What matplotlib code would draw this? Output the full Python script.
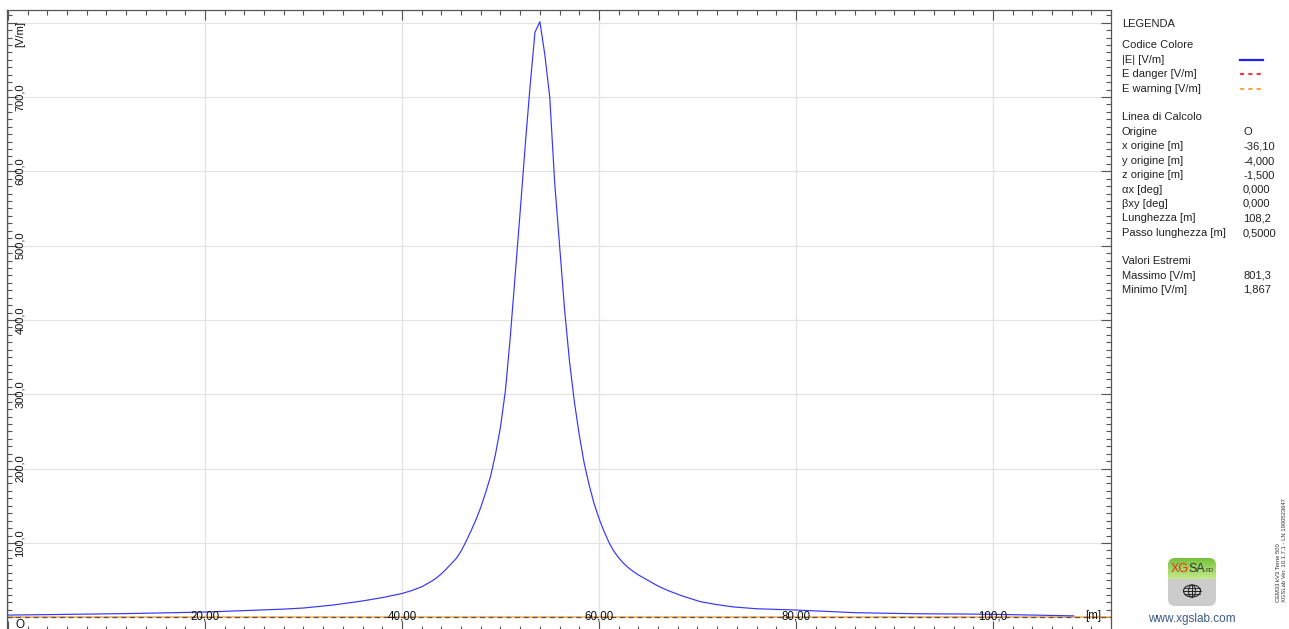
import matplotlib
matplotlib.use("Agg")
import matplotlib.pyplot as plt
from matplotlib.patches import FancyBboxPatch, Ellipse
from matplotlib.transforms import blended_transform_factory
import numpy as np

plt.rcParams['font.family'] = ['Liberation Sans', 'DejaVu Sans']

# ---- data ----
pos_m = [0, 4, 8, 12, 16, 20, 24, 28, 30, 33, 36, 38, 40, 41, 42, 43, 43.5, 44, 44.5,
         45, 45.5, 46, 46.5, 47, 47.5, 48, 48.5, 49, 49.5, 50, 50.5, 51, 51.5, 52,
         52.5, 53, 53.5, 54, 54.5, 55, 55.5, 56, 56.5, 57, 57.5, 58, 58.5, 59, 59.5,
         60, 60.5, 61, 61.5, 62, 62.5, 63, 63.5, 64, 65, 66, 67, 68.5, 70.3, 72, 73.6,
         76, 80, 86, 92, 97, 100, 104, 108.2]
e_field = [3.0, 3.6, 4.3, 5.0, 6.0, 7.1, 9.0, 11.0, 12.5, 16.5, 22.0, 26.5, 32.0, 36.0,
           41.0, 48.5, 53.0, 58.5, 65.0, 72.0, 79.0, 89.0, 102.0, 116.0, 131.0, 148.0,
           168.0, 190.0, 220.0, 256.0, 305.0, 378.0, 462.0, 546.0, 633.0, 714.0, 787.0,
           801.3, 757.0, 700.0, 585.0, 500.0, 415.0, 345.0, 290.0, 245.0, 207.0, 178.0,
           153.0, 133.0, 116.0, 101.0, 89.0, 80.0, 72.5, 66.5, 61.5, 57.0, 49.5, 42.0,
           36.0, 28.5, 21.0, 17.0, 14.0, 11.5, 9.8, 6.2, 4.8, 4.4, 4.0, 3.0, 1.9]
e_danger = 0.0
e_warning = 0.0
x_ticks = [20, 40, 60, 80, 100]
x_tick_labels = ["20,00", "40,00", "60,00", "80,00", "100,0"]
y_ticks = [100, 200, 300, 400, 500, 600, 700]
y_tick_labels = ["100,0", "200,0", "300,0", "400,0", "500,0", "600,0", "700,0"]

legend_rows = [
    ("LEGENDA", None, 24),
    ("Codice Colore", None, 45),
    ("|E| [V/m]", None, 60),
    ("E danger [V/m]", None, 74),
    ("E warning [V/m]", None, 89),
    ("Linea di Calcolo", None, 117),
    ("Origine", "O", 132),
    ("x origine [m]", "-36,10", 146),
    ("y origine [m]", "-4,000", 161),
    ("z origine [m]", "-1,500", 175),
    ("αx [deg]", "0,000", 190),
    ("βxy [deg]", "0,000", 204),
    ("Lunghezza [m]", "108,2", 218),
    ("Passo lunghezza [m]", "0,5000", 233),
    ("Valori Estremi", None, 261),
    ("Massimo [V/m]", "801,3", 276),
    ("Minimo [V/m]", "1,867", 290),
]

W, H = 1289, 629
fig = plt.figure(figsize=(W / 100, H / 100), dpi=100)

def fx(px):
    return px / W

def fy(py):
    return 1 - py / H

ax_l, ax_r, ax_t, ax_b = 7, 1111, 10, 630.5
ax = fig.add_axes([fx(ax_l), fy(ax_b), (ax_r - ax_l) / W, (ax_b - ax_t) / H])
ax.set_xlim(-0.10, 111.98)
ax.set_ylim(-17.76, 817.0)

ax.set_xticks(np.arange(0, 112, 20))
ax.set_xticks(np.arange(0, 112, 2), minor=True)
ax.set_yticks(np.arange(0, 817, 100))
ax.set_yticks(np.arange(0, 817, 10), minor=True)
ax.grid(True, which='major', color='#e3e3e3', lw=0.9)
ax.set_axisbelow(True)
ax.tick_params(which='both', direction='in', top=True, right=True, bottom=True, left=True,
               labelleft=False, labelbottom=False, color='#555555', width=0.8)
ax.tick_params(which='major', length=7)
ax.tick_params(which='minor', length=3.5)
for s in ax.spines.values():
    s.set_color('#555555')
    s.set_linewidth(0.9)

# threshold lines
ax.axhline(e_warning, color='#ffb04a', lw=1.1, zorder=2)
ax.axhline(e_danger, color='#555555', lw=0.9, ls=(0, (4, 3)), zorder=2)

# curve
ax.plot(pos_m, e_field, color='#3535ff', lw=0.85, zorder=3)

# tick labels inside the plot
trans_y = blended_transform_factory(ax.transAxes, ax.transData)
for v, lab in zip(y_ticks, y_tick_labels):
    ax.text((20 - ax_l) / (ax_r - ax_l), v, lab, rotation=90, ha='center', va='center',
            fontsize=8, color='#111111', transform=trans_y)
ax.text((20 - ax_l) / (ax_r - ax_l), 785, "[V/m]", rotation=90, ha='center', va='center',
        fontsize=8, color='#111111', transform=trans_y)
for v, lab in zip(x_ticks, x_tick_labels):
    ax.text(v, 1.5, lab, ha='center', va='center', fontsize=8.3, color='#111111', zorder=4)
ax.text(110.2, 1.5, "[m]", ha='center', va='center', fontsize=8.3, color='#111111', zorder=4)
fig.text(fx(20), fy(625), "O", ha='center', va='center', fontsize=8.5, color='#111111')

# legend panel
for lab, val, py in legend_rows:
    fig.text(fx(1122), fy(py), lab, ha='left', va='center', fontsize=8, color='#222222')
    if val is not None:
        fig.text(fx(1243), fy(py), val, ha='left', va='center', fontsize=8, color='#222222')

fig.add_artist(plt.Line2D([fx(1240), fx(1263)], [fy(60), fy(60)], color='#2020ff', lw=1.6))
fig.add_artist(plt.Line2D([fx(1240), fx(1264)], [fy(74), fy(74)], color='#ff2020', lw=1.3,
                          ls=(0, (2.3, 2.3))))
fig.add_artist(plt.Line2D([fx(1240), fx(1264)], [fy(89), fy(89)], color='#ff9a30', lw=1.3,
                          ls=(0, (2.3, 2.3))))

# logo
lax = fig.add_axes([fx(1167), fy(607), 50 / W, 50 / H])
lax.set_xlim(0, 50)
lax.set_ylim(0, 50)
lax.axis('off')
grad = np.ones((50, 1, 3))
for i in range(50):
    t = i / 49.0
    if t < 0.44:
        k = t / 0.44
        g = np.array([0.47, 0.76, 0.24]) * (1 - k) + np.array([0.78, 0.92, 0.55]) * k
    else:
        g = np.array([0.80, 0.80, 0.80])
    grad[i, 0] = g
box = FancyBboxPatch((1, 1), 48, 48, boxstyle="round,pad=0,rounding_size=7",
                     transform=lax.transData, facecolor='none', edgecolor='none')
lax.add_patch(box)
im = lax.imshow(grad, extent=(1, 49, 1, 49), aspect='auto', origin='upper')
im.set_clip_path(box)
lax.text(21.5, 37.5, "XG", color='#e8321e', fontsize=9, ha='right', va='center')
lax.text(21.0, 37.5, "SA", color='#333333', fontsize=9, ha='left', va='center')
lax.text(38.5, 36.5, "FD", color='#333333', fontsize=4.5, ha='left', va='center')
gx, gy = 25, 16
lax.add_patch(Ellipse((gx, gy), 17, 12, fill=False, ec='#222222', lw=0.8))
lax.add_patch(Ellipse((gx, gy), 7, 12, fill=False, ec='#222222', lw=0.7))
lax.plot([gx, gx], [gy - 6, gy + 6], color='#222222', lw=0.7)
lax.plot([gx - 8.5, gx + 8.5], [gy, gy], color='#222222', lw=0.7)
lax.plot([gx - 7.5, gx + 7.5], [gy + 3, gy + 3], color='#222222', lw=0.6)
lax.plot([gx - 7.5, gx + 7.5], [gy - 3, gy - 3], color='#222222', lw=0.6)

fig.text(fx(1192), fy(619), "www.xgslab.com", ha='center', va='center', fontsize=8.5,
         color='#3b5a85')

fig.text(fx(1278), fy(602), "CEM33 kV3 Terne 500", rotation=90, ha='center', va='bottom',
         fontsize=4.2, color='#333333')
fig.text(fx(1284), fy(602), "XGSLab Ver. 10.1.7.1 - LN 1900523647", rotation=90, ha='center',
         va='bottom', fontsize=4.2, color='#333333')

fig.savefig("out.png", dpi=100, facecolor='white')
